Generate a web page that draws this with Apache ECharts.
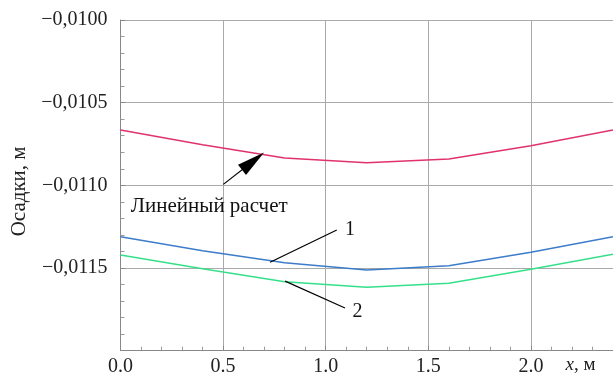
<!DOCTYPE html>
<html><head><meta charset="utf-8">
<script src="https://cdn.jsdelivr.net/npm/echarts@6/dist/echarts.min.js"></script>
<style>html,body{margin:0;padding:0;background:#fff}#c{width:613px;height:376px}</style>
</head><body><div id="c"></div>
<script>
const xs = [0, 0.4, 0.8, 1.2, 1.6, 2.0, 2.4];
const linear = [-0.010665, -0.010755, -0.010835, -0.010863, -0.010841, -0.010760, -0.010665];
const curve1 = [-0.011311, -0.011395, -0.011468, -0.011512, -0.011486, -0.011405, -0.011311];
const curve2 = [-0.011421, -0.011505, -0.011583, -0.011617, -0.011592, -0.011508, -0.011417];
const xTicks = [0, 0.5, 1.0, 1.5, 2.0];
const yTicks = [-0.0100, -0.0105, -0.0110, -0.0115];
// annotation anchors in data coordinates
const arrowLine = [[0.501, -0.010994], [0.646, -0.010854]];
const leader1 = [[1.054, -0.011270], [0.729, -0.011465]];
const leader2 = [[0.802, -0.011579], [1.094, -0.011742]];
const texts = [
  {t: 'Линейный расчет', c: [0.05, -0.011125]},
  {t: '1', c: [1.118, -0.011270]},
  {t: '2', c: [1.155, -0.011763]}
];
const FONT = 'Liberation Serif';
const pair = (a) => xs.map((x, i) => [x, a[i]]);
const chart = echarts.init(document.getElementById('c'), null, {renderer: 'canvas'});
const mlStyle = {color: '#000', width: 1.2, type: 'solid'};
chart.setOption({
  animation: false,
  backgroundColor: '#fff',
  grid: {left: 120.5, width: 513, top: 20, bottom: 25.3, containLabel: false, outerBoundsMode: 'none'},
  xAxis: {
    type: 'value', min: 0, max: 2.5, interval: 0.5,
    name: '{i|x}, м', nameLocation: 'end', nameGap: -68,
    nameTextStyle: {fontFamily: FONT, fontSize: 19, color: '#222', align: 'left', verticalAlign: 'top', padding: [5, 0, 0, 0],
      rich: {i: {fontFamily: FONT, fontSize: 19, fontStyle: 'italic', color: '#222'}}},
    axisLine: {show: true, lineStyle: {color: '#888', width: 1}},
    axisTick: {show: true, inside: true, length: 5, lineStyle: {color: '#888'}},
    minorTick: {show: true, splitNumber: 5, length: 4, lineStyle: {color: '#999'}},
    splitLine: {show: true, lineStyle: {color: '#aaa', width: 1}},
    axisLabel: {fontFamily: FONT, fontSize: 20, color: '#222', margin: 6,
      formatter: (v) => xTicks.some(t => Math.abs(t - v) < 1e-9) ? v.toFixed(1) : ''}
  },
  yAxis: {
    type: 'value', min: -0.0120, max: -0.0100, interval: 0.0005,
    name: 'Осадки, м', nameLocation: 'middle', nameGap: 89.5, nameRotate: 90,
    nameTextStyle: {fontFamily: FONT, fontSize: 21, color: '#222', padding: [0, 12, 0, 0]},
    axisLine: {show: true, lineStyle: {color: '#888', width: 1}},
    axisTick: {show: true, inside: true, length: 5, lineStyle: {color: '#888'}},
    minorTick: {show: true, splitNumber: 5, length: 4, lineStyle: {color: '#999'}},
    splitLine: {show: true, lineStyle: {color: '#aaa', width: 1}},
    axisLabel: {fontFamily: FONT, fontSize: 20, color: '#222', margin: 13,
      formatter: (v) => yTicks.some(t => Math.abs(t - v) < 1e-9) ? '\u2212' + Math.abs(v).toFixed(4).replace('.', ',') : ''}
  },
  series: [
    {type: 'line', data: pair(linear), symbol: 'none', lineStyle: {color: '#e0336b', width: 1.5}, silent: true,
      markLine: {silent: true, symbol: ['none', 'triangle'], label: {show: false}, lineStyle: mlStyle,
        data: [[{coord: arrowLine[0]}, {coord: arrowLine[1], symbolSize: [13, 28]}]]}},
    {type: 'line', data: pair(curve1), symbol: 'none', lineStyle: {color: '#3d7cc9', width: 1.5}, silent: true,
      markLine: {silent: true, symbol: ['none', 'none'], label: {show: false}, lineStyle: mlStyle,
        data: [[{coord: leader1[0]}, {coord: leader1[1]}], [{coord: leader2[0]}, {coord: leader2[1]}]]},
      markPoint: {silent: true, symbol: 'rect', symbolSize: 1, itemStyle: {color: 'rgba(0,0,0,0)'},
        label: {show: true, position: 'inside', color: '#111', fontFamily: FONT, fontSize: 20},
        data: texts.map(o => ({coord: o.c, value: o.t,
          label: {formatter: o.t, fontSize: o.t.length > 2 ? 21 : 20, align: o.t.length > 2 ? 'left' : 'center', verticalAlign: 'middle'}}))}},
    {type: 'line', data: pair(curve2), symbol: 'none', lineStyle: {color: '#35e08a', width: 1.5}, silent: true}
  ]
});
</script></body></html>
